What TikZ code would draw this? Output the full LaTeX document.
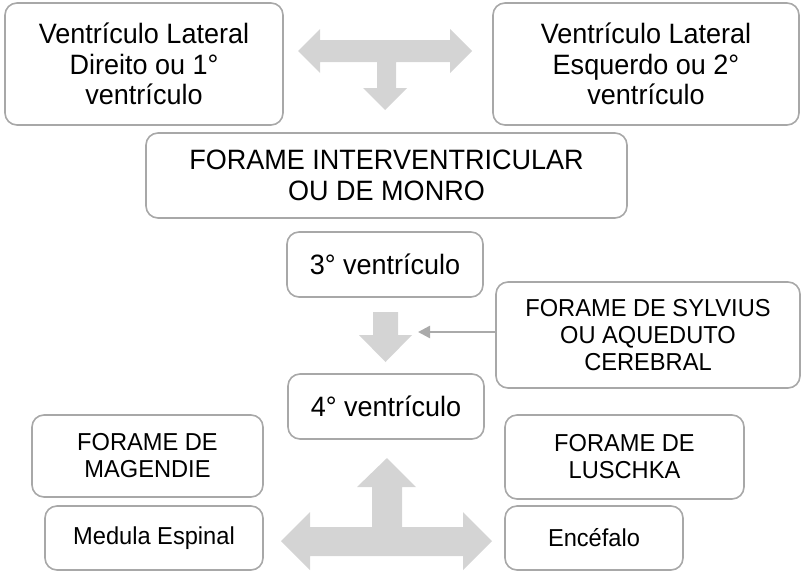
\documentclass[tikz,border=0pt]{standalone}
\usepackage{fontspec}
\setmainfont[FakeStretch=0.965]{Liberation Sans}
\usetikzlibrary{arrows.meta}
\definecolor{boxgray}{HTML}{A8A8A8}
\definecolor{arrowgray}{HTML}{D4D4D4}
\definecolor{linegray}{HTML}{AAAAAA}
\tikzset{
  box/.style={draw=boxgray, line width=1.6pt, rounded corners=12pt, fill=white, align=center, inner sep=0pt, text=black},
  bigbox/.style={box, font=\fontsize{28}{30.5}\selectfont},
  smallbox/.style={box, font=\fontsize{24.5}{27}\selectfont},
  blockarrow/.style={fill=arrowgray, draw=none},
}
\begin{document}
\begin{tikzpicture}[x=1pt,y=-1pt]
\useasboundingbox (0,0) rectangle (802,571);
% top T arrow
\path[blockarrow] (298,51) -- (320,29) -- (320,40) -- (450,40) -- (450,29) -- (472,51) -- (450,73) -- (450,62)
  -- (396,62) -- (396,88) -- (407,88) -- (385,110) -- (363,88) -- (377,88) -- (377,62) -- (320,62) -- (320,73) -- cycle;
% middle down arrow
\path[blockarrow] (373,312) -- (398,312) -- (398,335) -- (412,335) -- (385.5,362) -- (359,335) -- (373,335) -- cycle;
% bottom T arrow
\path[blockarrow] (387,458) -- (416,487) -- (402,487) -- (402,527) -- (463,527) -- (463,512) -- (492,541) -- (463,570)
  -- (463,556) -- (310,556) -- (310,570) -- (281,541) -- (310,512) -- (310,527) -- (372,527) -- (372,487) -- (357,487) -- cycle;

\node[bigbox, minimum width=278pt, minimum height=122pt] (vld) at (144,64) {Ventrículo Lateral\\Direito ou 1°\\ventrículo};
\node[bigbox, minimum width=306pt, minimum height=122pt] (vle) at (646,64) {Ventrículo Lateral\\Esquerdo ou 2°\\ventrículo};
\node[bigbox, minimum width=481pt, minimum height=85pt] (monro) at (386.5,175.5) {FORAME INTERVENTRICULAR\\OU DE MONRO};
\node[bigbox, minimum width=196pt, minimum height=65pt] (v3) at (385,264.5) {3° ventrículo};
\node[smallbox, minimum width=304pt, minimum height=106pt] (sylvius) at (648,335) {FORAME DE SYLVIUS\\OU AQUEDUTO\\CEREBRAL};
\node[bigbox, minimum width=196pt, minimum height=65pt] (v4) at (386,406.5) {4° ventrículo};
\node[smallbox, minimum width=231pt, minimum height=82pt] (magendie) at (147.5,456) {FORAME DE\\MAGENDIE};
\node[smallbox, minimum width=239pt, minimum height=84pt] (luschka) at (624.5,457) {FORAME DE\\LUSCHKA};
\node[smallbox, minimum width=218pt, minimum height=64pt] (medula) at (154,538) {Medula Espinal};
\node[smallbox, minimum width=178pt, minimum height=64pt] (encefalo) at (594,538) {Encéfalo};

\coordinate (syltip) at (418,332);
\draw[linegray, line width=2.5pt, -{Triangle[length=12pt,width=12pt]}] (sylvius.west |- syltip) -- (syltip);
\end{tikzpicture}
\end{document}
